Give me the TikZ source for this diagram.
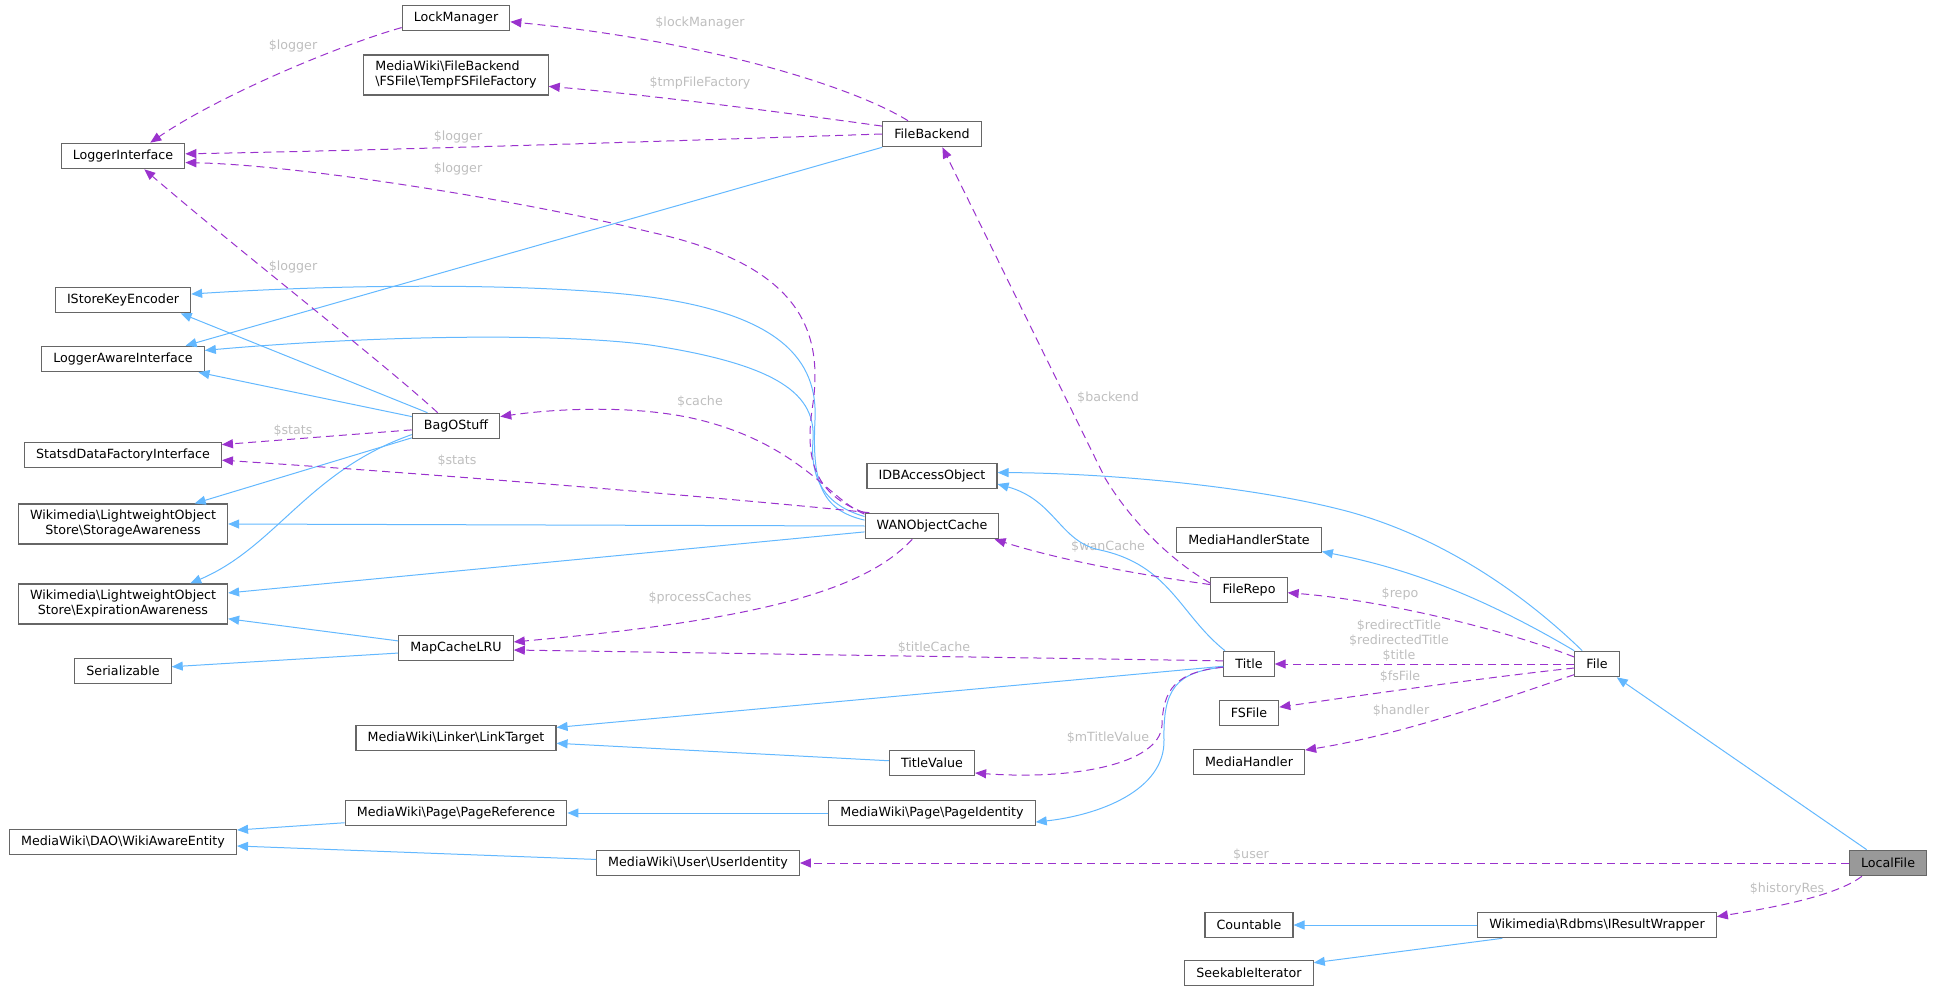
\documentclass[tikz,border=0pt]{standalone}
\usepackage{fontspec}
\setmainfont{DejaVu Sans}
\usetikzlibrary{positioning,arrows.meta}
\definecolor{edgeblue}{HTML}{63B8FF}
\definecolor{edgepurple}{HTML}{9A32CD}
\definecolor{boxgray}{HTML}{666666}
\definecolor{labelgray}{HTML}{BEBEBE}
\definecolor{focusgray}{HTML}{999999}

\begin{document}
\begin{tikzpicture}[x=1pt,y=-1pt,on grid,font=\fontsize{12.67}{15}\selectfont,
    cls/.style={rectangle,draw=boxgray,line width=1.1pt,fill=white,inner xsep=11.6pt,inner ysep=3pt,minimum height=25.5pt},
    tall/.style={cls,minimum height=40pt},
    inh/.style={draw=edgeblue,line width=1pt,-{Triangle[length=11pt,width=9pt]}},
    use/.style={draw=edgepurple,line width=1pt,dash pattern=on 8pt off 5pt,-{Triangle[length=11pt,width=9pt]}},
    lbl/.style={text=labelgray,inner sep=0pt,align=center}]
        \useasboundingbox (0,0) rectangle (1933,992);

        \node[cls,fill=focusgray] (lf) at (1888,863) {LocalFile};
        \node[cls] (fi) [above left=199pt and 291pt of lf] {File};
        \node[cls] (rw) [below=261pt of fi] {Wikimedia\textbackslash Rdbms\textbackslash IResultWrapper};
        \node[cls] (ti) [left=348pt of fi] {Title};
        \node[cls] (mhs) [above=124pt of ti] {MediaHandlerState};
        \node[cls] (fr) [above=74pt of ti] {FileRepo};
        \node[cls] (fs) [below=49pt of ti] {FSFile};
        \node[cls] (mh) [below=98pt of ti] {MediaHandler};
        \node[cls] (co) [left=348pt of rw] {Countable};
        \node[cls] (si) [below=48pt of co] {SeekableIterator};
        \node[cls] (wan) [above left=138pt and 317pt of ti] {WANObjectCache};
        \node[cls] (ida) [above=50pt of wan] {IDBAccessObject};
        \node[cls] (fb) [above=392pt of wan] {FileBackend};
        \node[cls] (tv) [below=237pt of wan] {TitleValue};
        \node[cls] (pi) [below=287pt of wan] {MediaWiki\textbackslash Page\textbackslash PageIdentity};
        \node[cls] (ui) [below left=337pt and 234pt of wan] {MediaWiki\textbackslash User\textbackslash UserIdentity};
        \node[cls] (bo) [above left=100pt and 476pt of wan] {BagOStuff};
        \node[cls] (lm) [above=408pt of bo] {LockManager};
        \node[tall,align=left] (tf) [above=351pt of bo] {MediaWiki\textbackslash FileBackend\\\textbackslash FSFile\textbackslash TempFSFileFactory};
        \node[cls] (mc) [below=222pt of bo] {MapCacheLRU};
        \node[cls] (lt) [below=312pt of bo] {MediaWiki\textbackslash Linker\textbackslash LinkTarget};
        \node[cls] (pr) [below=387pt of bo] {MediaWiki\textbackslash Page\textbackslash PageReference};
        \node[cls] (li) [above left=270pt and 333pt of bo] {LoggerInterface};
        \node[cls] (ik) [below=144pt of li] {IStoreKeyEncoder};
        \node[cls] (la) [below=203pt of li] {LoggerAwareInterface};
        \node[cls] (sd) [below=299pt of li] {StatsdDataFactoryInterface};
        \node[tall,align=center] (sa) [below=368pt of li] {Wikimedia\textbackslash LightweightObject\\Store\textbackslash StorageAwareness};
        \node[tall,align=center] (ea) [below=448pt of li] {Wikimedia\textbackslash LightweightObject\\Store\textbackslash ExpirationAwareness};
        \node[cls] (se) [below=515pt of li] {Serializable};
        \node[cls] (wa) [below=686pt of li] {MediaWiki\textbackslash DAO\textbackslash WikiAwareEntity};

        \node[lbl] (l1) at (700,23) {\$lockManager};
        \node[lbl] (l2) at (700,83) {\$tmpFileFactory};
        \node[lbl] (l3) at (293,46) {\$logger};
        \node[lbl] (l4) at (458,137) {\$logger};
        \node[lbl] (l5) at (458,169) {\$logger};
        \node[lbl] (l6) at (293,267) {\$logger};
        \node[lbl] (l7) at (293,431) {\$stats};
        \node[lbl] (l8) at (457,461) {\$stats};
        \node[lbl] (l9) at (700,402) {\$cache};
        \node[lbl] (l10) at (700,598) {\$processCaches};
        \node[lbl] (l11) at (934,648) {\$titleCache};
        \node[lbl] (l12) at (1108,398) {\$backend};
        \node[lbl] (l13) at (1108,547) {\$wanCache};
        \node[lbl] (l14) at (1108,738) {\$mTitleValue};
        \node[lbl] (l15) at (1251,855) {\$user};
        \node[lbl] (l16) at (1400,594) {\$repo};
        \node[lbl] (l17) at (1399,641) {\$redirectTitle\\\$redirectedTitle\\\$title};
        \node[lbl] (l18) at (1400,677) {\$fsFile};
        \node[lbl] (l19) at (1401,711) {\$handler};
        \node[lbl] (l20) at (1787,889) {\$historyRes};

        \draw[inh](fb.south west) -- (la.12);
        \draw[inh](bo.155) -- (ik.-13);
        \draw[inh](bo.168) -- (la.-10);
        \draw[inh](bo.195) -- (sa.16);
        \draw[inh](bo.191) .. controls (308,471) and (276,547) .. (ea.17);
        \draw[inh](wan.175) .. controls (820,510) and (812,480) .. (815,420) .. controls (818,360) and (780,315) .. (650,297) .. controls (560,285) and (380,282) .. (ik.5);
        \draw[inh](wan.172) .. controls (825,505) and (810,480) .. (813,440) .. controls (816,395) and (780,365) .. (650,345) .. controls (560,333) and (380,335) .. (la.6);
        \draw[inh](wan.west) -- (sa.east);
        \draw[inh](wan.185) -- (ea.6);
        \draw[inh](mc.173) -- (ea.-8);
        \draw[inh](mc.185) -- (se.5);
        \draw[inh](ti.151) .. controls (1180,615) and (1170,565) .. (1100,550) .. controls (1060,542) and (1055,500) .. (ida.-7);
        \draw[inh](ti.185) -- (lt.6);
        \draw[inh](ti.187) .. controls (1175,672) and (1163,690) .. (1164,740) .. controls (1165,790) and (1100,815) .. (pi.-5);
        \draw[inh](tv.177) -- (lt.-3);
        \draw[inh](pi.west) -- (pr.east);
        \draw[inh](pr.185) -- (wa.6);
        \draw[inh](ui.178) -- (wa.-2);
        \draw[inh](fi.138) .. controls (1530,600) and (1450,540) .. (1350,512) .. controls (1250,485) and (1100,473) .. (ida.3);
        \draw[inh](fi.north west) .. controls (1465,586) and (1389,565) .. (mhs.-9);
        \draw[inh](lf.148) -- (fi.-34);
        \draw[inh](rw.west) -- (co.east);
        \draw[inh](rw.188) -- (si.9);

        \draw[use](fb.151) .. controls (850,85) and (700,40) .. (lm.-4);
        \draw[use](fb.171) .. controls (780,112) and (650,95) .. (tf.-7);
        \draw[use](fb.west) .. controls (700,140) and (400,150) .. (li.2);
        \draw[use](lm.190) .. controls (340,45) and (220,95) .. (li.26);
        \draw[use](wan.north west) .. controls (815,495) and (805,460) .. (812,410) .. controls (825,330) and (800,265) .. (650,232) .. controls (520,200) and (300,165) .. (li.-6);
        \draw[use](bo.144) .. controls (380,360) and (250,260) .. (li.-32);
        \draw[use](bo.185) -- (sd.6);
        \draw[use](wan.170) .. controls (830,500) and (800,445) .. (700,420) .. controls (640,405) and (560,408) .. (bo.12);
        \draw[use](wan.168) .. controls (750,500) and (450,475) .. (sd.-3);
        \draw[use](wan.214) .. controls (865,590) and (760,620) .. (mc.6);
        \draw[use](fr.170) .. controls (1170,560) and (1130,520) .. (1105,478) -- (fb.-52);
        \draw[use](fr.172) .. controls (1140,575) and (1060,560) .. (wan.-12);
        \draw[use](ti.173) -- (mc.-2);
        \draw[use](ti.187) .. controls (1175,672) and (1163,690) .. (1162,725) .. controls (1160,765) and (1070,780) .. (tv.-13);
        \draw[use](fi.163) .. controls (1500,628) and (1380,600) .. (fr.-4);
        \draw[use](fi.west) -- (ti.east);
        \draw[use](fi.190) .. controls (1480,678) and (1350,697) .. (fs.11);
        \draw[use](fi.205) .. controls (1500,700) and (1400,735) .. (mh.12);
        \draw[use](lf.west) -- (ui.east);
        \draw[use](lf.207) .. controls (1840,893) and (1790,905) .. (rw.4);
    \end{tikzpicture}
\end{document}
